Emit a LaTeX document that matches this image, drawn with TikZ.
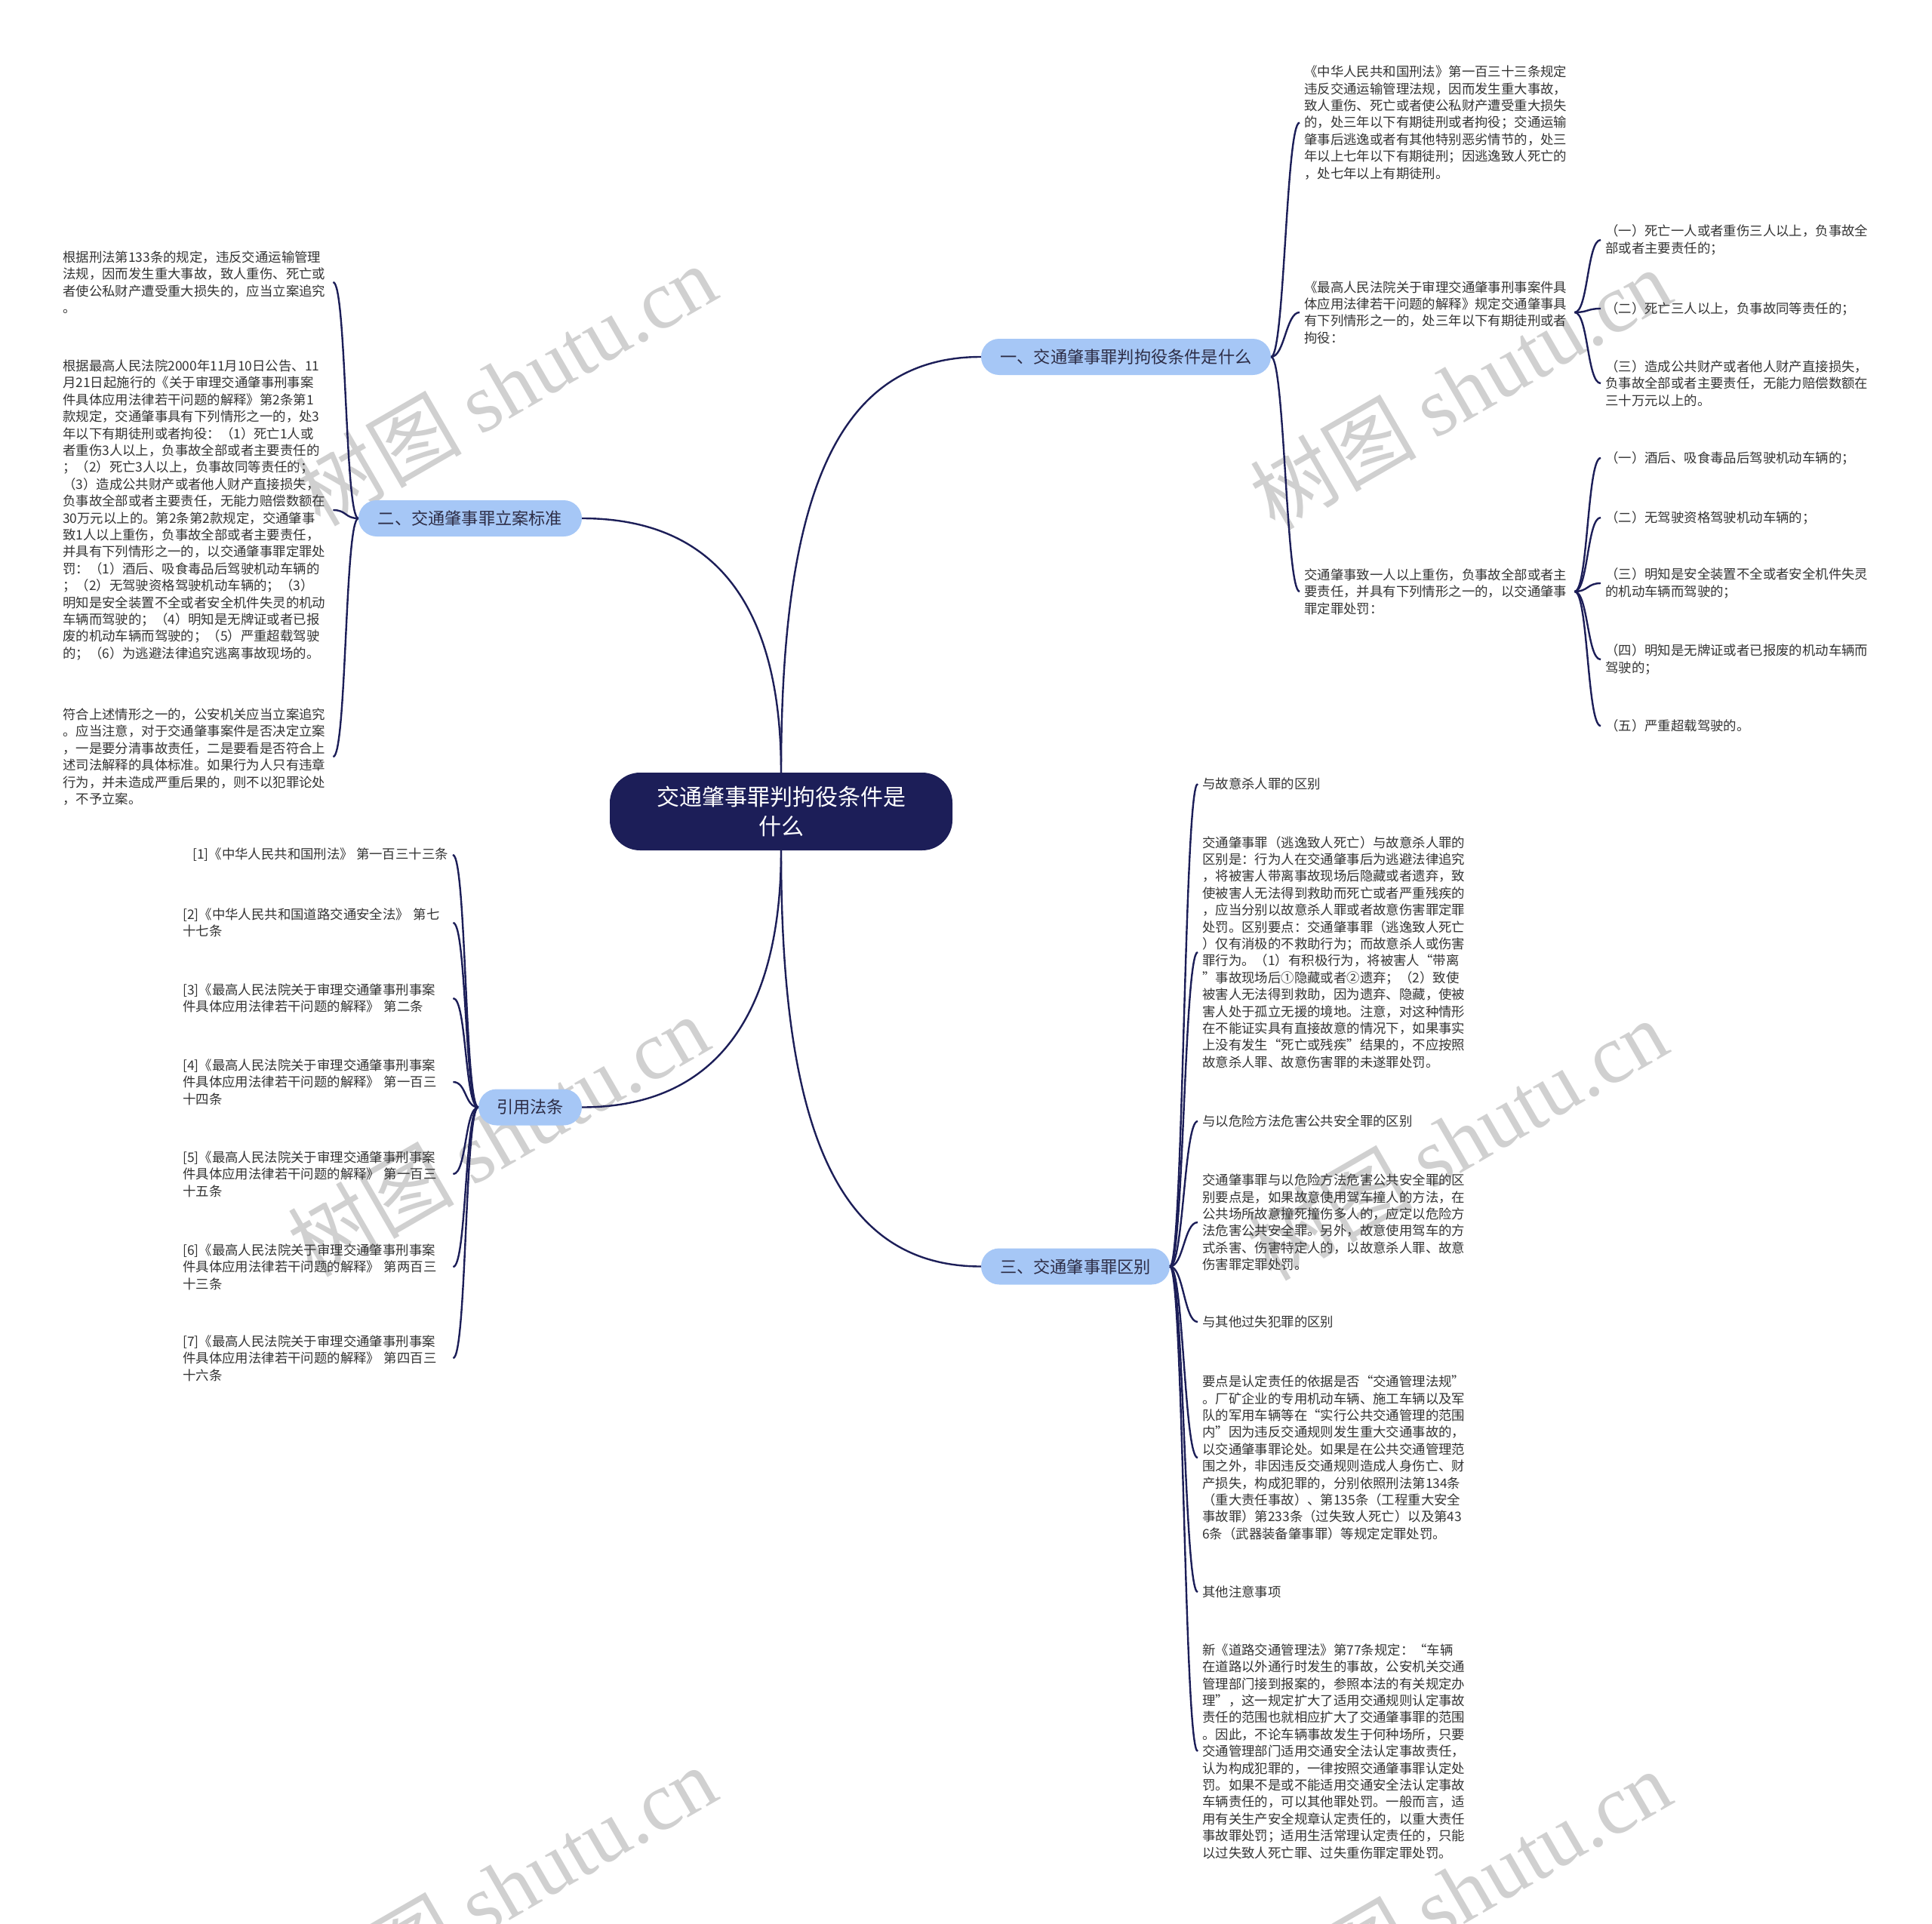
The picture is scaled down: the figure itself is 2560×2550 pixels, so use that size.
\documentclass[tikz,border=0pt]{standalone}
\usepackage{fontspec}
\setmainfont{Noto Sans CJK SC}
\newfontfamily\wmlatin{Liberation Serif}
\usetikzlibrary{calc}
\definecolor{navy}{RGB}{28,30,88}
\definecolor{lblue}{RGB}{166,199,246}
\definecolor{txt}{RGB}{51,51,51}
\definecolor{btxt}{RGB}{45,45,70}
\definecolor{wm}{RGB}{208,208,208}
\tikzset{
  leaf/.style={font=\fontsize{17.4}{22.4}\selectfont, text=txt, align=left, inner xsep=6pt, inner ysep=2pt},
  leafw/.style={leaf, text width=352pt},
  branch/.style={rounded corners=24pt, fill=lblue, text=btxt, font=\fontsize{22.2}{26}\selectfont, inner xsep=0pt, minimum height=48pt},
  root/.style={rounded corners=40pt, fill=navy, text=white, font=\fontsize{30}{39}\selectfont, align=center, minimum width=454pt, minimum height=103pt},
  conn/.style={draw=navy, line width=2.4pt},
  wmark/.style={rotate=30, text=wm, font=\fontsize{110}{110}\selectfont}
}
\newcommand\rc[2]{\draw[conn] (#1.east) .. controls +(18,0) and +(-18,0) .. (#2.west);}
\newcommand\lc[2]{\draw[conn] (#1.west) .. controls +(-18,0) and +(18,0) .. (#2.east);}
\begin{document}
\begin{tikzpicture}[x=1pt,y=-1pt]
\useasboundingbox (0,0) rectangle (2560,2550);
% watermarks
\node[wmark] (w1) at (670,510) {树图 {\wmlatin shutu.cn}};
\node[wmark] (w2) at (1935,515) {树图 {\wmlatin shutu.cn}};
\node[wmark] (w3) at (660,1505) {树图 {\wmlatin shutu.cn}};
\node[wmark] (w4) at (1930,1510) {树图 {\wmlatin shutu.cn}};
\node[wmark] (w5) at (670,2500) {树图 {\wmlatin shutu.cn}};
\node[wmark] (w6) at (1935,2505) {树图 {\wmlatin shutu.cn}};

% root and branches
\node[root] (root) at (1035,1075.5) {交通肇事罪判拘役条件是\\什么};
\node[branch, minimum width=384pt] (b1) at (1492,473) {一、交通肇事罪判拘役条件是什么};
\node[branch, minimum width=296pt] (b2) at (623,687) {二、交通肇事罪立案标准};
\node[branch, minimum width=137pt] (b3) at (702.5,1467.5) {引用法条};
\node[branch, minimum width=250pt] (b4) at (1425,1678.5) {三、交通肇事罪区别};

\draw[conn] (root.north) .. controls +(0,-370) and +(-190,0) .. (b1.west);
\draw[conn] (root.north) .. controls +(0,-175) and +(209,0) .. (b2.east);
\draw[conn] (root.south) .. controls +(0,171) and +(209,0) .. (b3.east);
\draw[conn] (root.south) .. controls +(0,370) and +(-190,0) .. (b4.west);

% branch 1 children
\node[leafw, anchor=west] (a1) at (1722,162.5) {《中华人民共和国刑法》第一百三十三条规定\\违反交通运输管理法规，因而发生重大事故，\\致人重伤、死亡或者使公私财产遭受重大损失\\的，处三年以下有期徒刑或者拘役；交通运输\\肇事后逃逸或者有其他特别恶劣情节的，处三\\年以上七年以下有期徒刑；因逃逸致人死亡的\\，处七年以上有期徒刑。};
\node[leafw, anchor=west] (a2) at (1722,414) {《最高人民法院关于审理交通肇事刑事案件具\\体应用法律若干问题的解释》规定交通肇事具\\有下列情形之一的，处三年以下有期徒刑或者\\拘役：};
\node[leafw, anchor=west] (a3) at (1722,784) {交通肇事致一人以上重伤，负事故全部或者主\\要责任，并具有下列情形之一的，以交通肇事\\罪定罪处罚：};
\rc{b1}{a1}\rc{b1}{a2}\rc{b1}{a3}

\node[leafw, anchor=west] (c11) at (2121,318) {（一）死亡一人或者重伤三人以上，负事故全\\部或者主要责任的；};
\node[leaf, anchor=west] (c12) at (2121,409) {（二）死亡三人以上，负事故同等责任的；};
\node[leafw, anchor=west] (c13) at (2121,508) {（三）造成公共财产或者他人财产直接损失，\\负事故全部或者主要责任，无能力赔偿数额在\\三十万元以上的。};
\rc{a2}{c11}\rc{a2}{c12}\rc{a2}{c13}

\node[leaf, anchor=west] (c21) at (2121,607) {（一）酒后、吸食毒品后驾驶机动车辆的；};
\node[leaf, anchor=west] (c22) at (2121,686) {（二）无驾驶资格驾驶机动车辆的；};
\node[leafw, anchor=west] (c23) at (2121,773) {（三）明知是安全装置不全或者安全机件失灵\\的机动车辆而驾驶的；};
\node[leafw, anchor=west] (c24) at (2121,874) {（四）明知是无牌证或者已报废的机动车辆而\\驾驶的；};
\node[leaf, anchor=west] (c25) at (2121,962) {（五）严重超载驾驶的。};
\rc{a3}{c21}\rc{a3}{c22}\rc{a3}{c23}\rc{a3}{c24}\rc{a3}{c25}

% branch 2 children
\node[leafw, anchor=west] (d1) at (77,374) {根据刑法第133条的规定，违反交通运输管理\\法规，因而发生重大事故，致人重伤、死亡或\\者使公私财产遭受重大损失的，应当立案追究\\。};
\node[leafw, anchor=west] (d2) at (77,676) {根据最高人民法院2000年11月10日公告、11\\月21日起施行的《关于审理交通肇事刑事案\\件具体应用法律若干问题的解释》第2条第1\\款规定，交通肇事具有下列情形之一的，处3\\年以下有期徒刑或者拘役：（1）死亡1人或\\者重伤3人以上，负事故全部或者主要责任的\\；（2）死亡3人以上，负事故同等责任的；\\（3）造成公共财产或者他人财产直接损失，\\负事故全部或者主要责任，无能力赔偿数额在\\30万元以上的。第2条第2款规定，交通肇事\\致1人以上重伤，负事故全部或者主要责任，\\并具有下列情形之一的，以交通肇事罪定罪处\\罚：（1）酒后、吸食毒品后驾驶机动车辆的\\；（2）无驾驶资格驾驶机动车辆的；（3）\\明知是安全装置不全或者安全机件失灵的机动\\车辆而驾驶的；（4）明知是无牌证或者已报\\废的机动车辆而驾驶的；（5）严重超载驾驶\\的；（6）为逃避法律追究逃离事故现场的。};
\node[leafw, anchor=west] (d3) at (77,1003) {符合上述情形之一的，公安机关应当立案追究\\。应当注意，对于交通肇事案件是否决定立案\\，一是要分清事故责任，二是要看是否符合上\\述司法解释的具体标准。如果行为人只有违章\\行为，并未造成严重后果的，则不以犯罪论处\\，不予立案。};
\lc{b2}{d1}\lc{b2}{d2}\lc{b2}{d3}

% references
\node[leaf, anchor=east] (r1) at (600,1133) {[1]《中华人民共和国刑法》 第一百三十三条};
\node[leafw, anchor=west] (r2) at (236,1223) {[2]《中华人民共和国道路交通安全法》 第七\\十七条};
\node[leafw, anchor=west] (r3) at (236,1323) {[3]《最高人民法院关于审理交通肇事刑事案\\件具体应用法律若干问题的解释》 第二条};
\node[leafw, anchor=west] (r4) at (236,1434) {[4]《最高人民法院关于审理交通肇事刑事案\\件具体应用法律若干问题的解释》 第一百三\\十四条};
\node[leafw, anchor=west] (r5) at (236,1556) {[5]《最高人民法院关于审理交通肇事刑事案\\件具体应用法律若干问题的解释》 第一百三\\十五条};
\node[leafw, anchor=west] (r6) at (236,1679) {[6]《最高人民法院关于审理交通肇事刑事案\\件具体应用法律若干问题的解释》 第两百三\\十三条};
\node[leafw, anchor=west] (r7) at (236,1800) {[7]《最高人民法院关于审理交通肇事刑事案\\件具体应用法律若干问题的解释》 第四百三\\十六条};
\lc{b3}{r1}\lc{b3}{r2}\lc{b3}{r3}\lc{b3}{r4}\lc{b3}{r5}\lc{b3}{r6}\lc{b3}{r7}

% branch 3 children
\node[leaf, anchor=west] (e1) at (1587,1039) {与故意杀人罪的区别};
\node[leafw, anchor=west] (e2) at (1587,1262) {交通肇事罪（逃逸致人死亡）与故意杀人罪的\\区别是：行为人在交通肇事后为逃避法律追究\\，将被害人带离事故现场后隐藏或者遗弃，致\\使被害人无法得到救助而死亡或者严重残疾的\\，应当分别以故意杀人罪或者故意伤害罪定罪\\处罚。区别要点：交通肇事罪（逃逸致人死亡\\）仅有消极的不救助行为；而故意杀人或伤害\\罪行为。（1）有积极行为，将被害人“带离\\”事故现场后①隐藏或者②遗弃；（2）致使\\被害人无法得到救助，因为遗弃、隐藏，使被\\害人处于孤立无援的境地。注意，对这种情形\\在不能证实具有直接故意的情况下，如果事实\\上没有发生“死亡或残疾”结果的，不应按照\\故意杀人罪、故意伤害罪的未遂罪处罚。};
\node[leaf, anchor=west] (e3) at (1587,1486) {与以危险方法危害公共安全罪的区别};
\node[leafw, anchor=west] (e4) at (1587,1620) {交通肇事罪与以危险方法危害公共安全罪的区\\别要点是，如果故意使用驾车撞人的方法，在\\公共场所故意撞死撞伤多人的，应定以危险方\\法危害公共安全罪。另外，故意使用驾车的方\\式杀害、伤害特定人的，以故意杀人罪、故意\\伤害罪定罪处罚。};
\node[leaf, anchor=west] (e5) at (1587,1752) {与其他过失犯罪的区别};
\node[leafw, anchor=west] (e6) at (1587,1932) {要点是认定责任的依据是否“交通管理法规”\\。厂矿企业的专用机动车辆、施工车辆以及军\\队的军用车辆等在“实行公共交通管理的范围\\内”因为违反交通规则发生重大交通事故的，\\以交通肇事罪论处。如果是在公共交通管理范\\围之外，非因违反交通规则造成人身伤亡、财\\产损失，构成犯罪的，分别依照刑法第134条\\（重大责任事故）、第135条（工程重大安全\\事故罪）第233条（过失致人死亡）以及第43\\6条（武器装备肇事罪）等规定定罪处罚。};
\node[leaf, anchor=west] (e7) at (1587,2110) {其他注意事项};
\node[leafw, anchor=west] (e8) at (1587,2321) {新《道路交通管理法》第77条规定：“车辆\\在道路以外通行时发生的事故，公安机关交通\\管理部门接到报案的，参照本法的有关规定办\\理”，这一规定扩大了适用交通规则认定事故\\责任的范围也就相应扩大了交通肇事罪的范围\\。因此，不论车辆事故发生于何种场所，只要\\交通管理部门适用交通安全法认定事故责任，\\认为构成犯罪的，一律按照交通肇事罪认定处\\罚。如果不是或不能适用交通安全法认定事故\\车辆责任的，可以其他罪处罚。一般而言，适\\用有关生产安全规章认定责任的，以重大责任\\事故罪处罚；适用生活常理认定责任的，只能\\以过失致人死亡罪、过失重伤罪定罪处罚。};
\rc{b4}{e1}\rc{b4}{e2}\rc{b4}{e3}\rc{b4}{e4}\rc{b4}{e5}\rc{b4}{e6}\rc{b4}{e7}\rc{b4}{e8}
\end{tikzpicture}
\end{document}
